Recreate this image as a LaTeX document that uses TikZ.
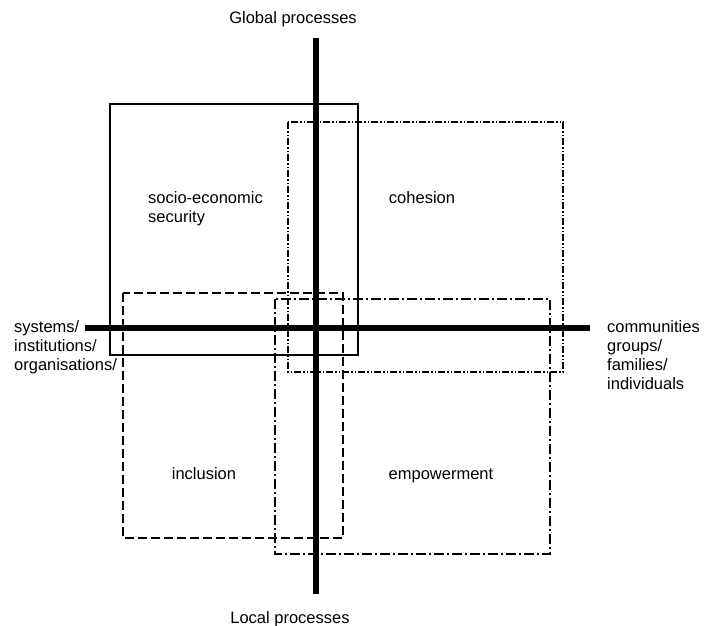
\documentclass[tikz,border=0pt]{standalone}
\usepackage{fontspec}
\setmainfont{Liberation Sans}
\begin{document}
\begin{tikzpicture}[x=1pt,y=-1pt,axis/.style={line width=6.5pt},box/.style={line width=1.2pt},lbl/.style={inner sep=0pt,font=\fontsize{16.5}{19}\selectfont}]
	\useasboundingbox (0,0) rectangle (704,626);
	% quadrant boxes
	\draw[box] (110,104) rectangle (358,355);
	\draw[box,dash pattern=on 7pt off 2pt on 1.5pt off 2pt on 1.5pt off 2pt] (288,122) rectangle (563,372);
	\draw[box,dash pattern=on 9pt off 4pt] (123,293) rectangle (343,538);
	\draw[box,dash pattern=on 10pt off 3pt on 2pt off 3pt] (275,299) rectangle (550,554);
	% axes
	\coordinate (top) at (316,38);
	\coordinate (bottom) at (316,594);
	\coordinate (left) at (85,328);
	\coordinate (right) at (590,328);
	\draw[axis] (top) -- (bottom);
	\draw[axis] (left) -- (right);
	% labels
	\node[lbl,anchor=base] (global) at (293,24) {Global processes};
	\node[lbl,anchor=base] (local) at (290,623) {Local processes};
	\node[lbl,anchor=north west,align=left] (sys) at (14,320) {systems/\\institutions/\\organisations/};
	\node[lbl,anchor=north west,align=left] (comm) at (607,320) {communities\\groups/\\families/\\individuals};
	\node[lbl,anchor=north west,align=left] (secu) at (148,191) {socio-economic\\security};
	\node[lbl,anchor=base] (coh) at (422,203) {cohesion};
	\node[lbl,anchor=base] (incl) at (204,479) {inclusion};
	\node[lbl,anchor=base] (emp) at (441,479) {empowerment};
\end{tikzpicture}
\end{document}
